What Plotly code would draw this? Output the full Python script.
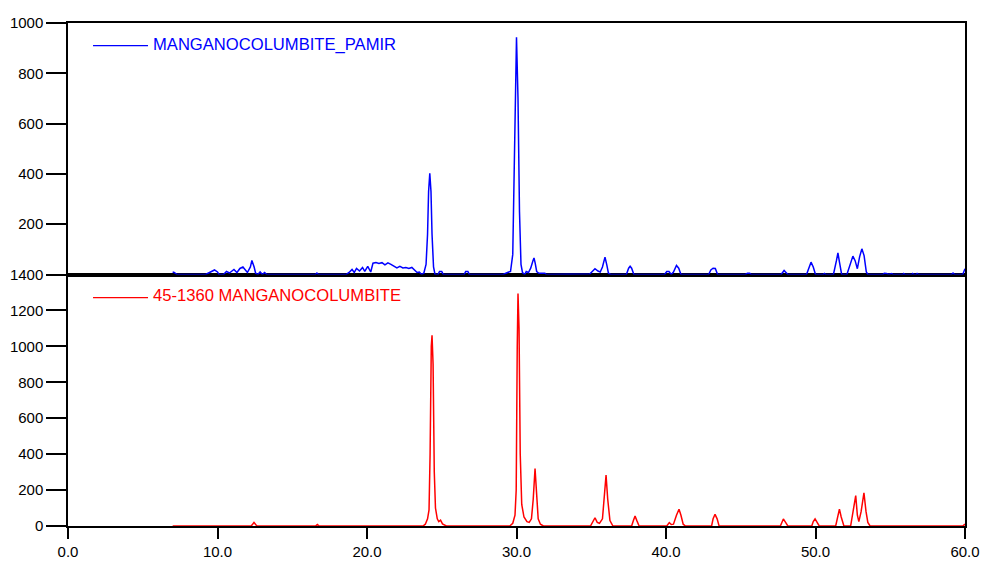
import plotly.graph_objects as go

# ---- data (2-theta, intensity) ----
pamir_x = [7.0, 7.1, 7.3, 9.2, 9.4, 9.6, 9.8, 10.0, 10.1, 10.4, 10.6, 10.8, 11.0, 11.1, 11.3, 11.5, 11.7, 11.9,
           12.0, 12.2, 12.3, 12.45, 12.55, 12.7, 12.85, 13.0, 13.15, 13.3, 16.55, 16.65, 16.75, 18.6, 18.8, 19.0,
           19.15, 19.3, 19.5, 19.7, 19.85, 20.05, 20.25, 20.4, 20.6, 20.8, 21.0, 21.2, 21.4, 21.6, 21.8, 22.0,
           22.2, 22.4, 22.6, 22.8, 23.0, 23.2, 23.35, 23.5, 23.65, 23.8, 23.95, 24.05, 24.12, 24.2, 24.28, 24.35,
           24.45, 24.55, 24.75, 24.85, 25.0, 25.1, 26.5, 26.6, 26.75, 26.85, 29.1, 29.4, 29.6, 29.75, 29.88, 30.0,
           30.1, 30.2, 30.3, 30.4, 30.55, 30.65, 30.8, 30.95, 31.1, 31.17, 31.25, 31.35, 31.5, 31.9, 32.0, 34.6,
           34.9, 35.1, 35.25, 35.45, 35.6, 35.75, 35.92, 36.05, 36.15, 36.3, 37.35, 37.5, 37.6, 37.7, 37.85, 39.9,
           40.05, 40.2, 40.35, 40.5, 40.7, 40.85, 41.0, 42.85, 43.0, 43.15, 43.3, 43.45, 45.3, 45.45, 45.6, 45.7,
           47.7, 47.9, 48.05, 48.15, 49.4, 49.55, 49.7, 49.85, 50.0, 50.5, 50.6, 50.7, 51.2, 51.4, 51.5, 51.6,
           51.75, 52.1, 52.3, 52.5, 52.65, 52.8, 52.95, 53.1, 53.25, 53.4, 53.5, 54.5, 54.6, 54.75, 54.9, 55.1,
           55.2, 55.85, 55.9, 56.0, 56.45, 56.5, 56.6, 56.75, 56.8, 56.9, 59.1, 59.2, 59.3, 59.85, 60.0]
pamir_y = [10, 8, 0, 0, 6, 12, 18, 10, 0, 0, 12, 6, 14, 20, 8, 24, 30, 18,
           8, 30, 56, 30, 5, 0, 10, 0, 8, 0, 0, 6, 0, 0, 8, 20,
           8, 24, 14, 28, 12, 32, 10, 45, 48, 44, 47, 38, 46, 40, 34, 26,
           32, 26, 28, 24, 28, 18, 8, 10, 0, 5, 40, 160, 330, 402, 330, 160,
           30, 0, 0, 12, 12, 0, 0, 12, 12, 0, 0, 8, 12, 80, 500, 943,
           700, 250, 40, 8, 0, 12, 8, 25, 55, 66, 45, 12, 5, 5, 0, 0,
           2, 14, 23, 14, 10, 30, 69, 35, 5, 0, 0, 25, 33, 25, 0, 0,
           12, 12, 0, 10, 36, 25, 0, 0, 18, 25, 24, 0, 0, 5, 5, 0,
           0, 16, 6, 0, 0, 25, 49, 30, 0, 0, 4, 0, 0, 55, 86, 50,
           0, 0, 40, 73, 55, 23, 70, 102, 75, 10, 0, 0, 5, 4, 0, 4,
           0, 0, 4, 0, 0, 4, 0, 0, 4, 0, 0, 6, 0, 0, 23]

ref_x = [7.0, 12.25, 12.35, 12.44, 12.55, 12.65, 16.55, 16.68, 16.8, 23.75, 23.9, 24.05, 24.15, 24.22, 24.3,
         24.35, 24.42, 24.5, 24.58, 24.7, 24.8, 24.92, 25.05, 25.3, 29.55, 29.75, 29.9, 29.98, 30.05, 30.1,
         30.17, 30.25, 30.35, 30.5, 30.7, 30.85, 31.0, 31.12, 31.24, 31.33, 31.45, 31.6, 31.8, 34.95, 35.1,
         35.25, 35.4, 35.55, 35.75, 35.9, 35.99, 36.1, 36.25, 36.45, 37.7, 37.82, 37.93, 38.05, 38.2, 40.05,
         40.15, 40.22, 40.35, 40.5, 40.7, 40.87, 41.0, 41.15, 41.3, 43.05, 43.15, 43.28, 43.42, 43.55, 47.65,
         47.75, 47.85, 48.0, 48.15, 49.75, 49.85, 49.97, 50.1, 50.25, 51.35, 51.48, 51.6, 51.72, 51.9, 52.35,
         52.5, 52.69, 52.8, 52.9, 53.05, 53.24, 53.38, 53.5, 53.65, 59.85, 60.0]
ref_y = [0, 0, 10, 20, 8, 0, 0, 8, 0, 0, 10, 40, 90, 400, 1000,
         1061, 900, 300, 100, 40, 25, 33, 12, 0, 0, 15, 60, 200, 1000, 1294,
         1100, 400, 120, 50, 24, 20, 40, 150, 320, 200, 40, 10, 0, 0, 25,
         46, 20, 15, 40, 200, 283, 150, 30, 0, 0, 30, 56, 30, 0, 0,
         15, 19, 8, 10, 60, 93, 60, 10, 0, 0, 40, 65, 40, 0, 0,
         20, 39, 20, 0, 0, 25, 39, 20, 0, 0, 50, 94, 50, 0, 0,
         80, 169, 60, 24, 80, 185, 80, 20, 0, 0, 10]

top_ticks = [200, 400, 600, 800, 1000]
bottom_ticks = [0, 200, 400, 600, 800, 1000, 1200, 1400]
x_ticks = [0, 10, 20, 30, 40, 50, 60]
x_labels = ["0.0", "10.0", "20.0", "30.0", "40.0", "50.0", "60.0"]

name_top = "MANGANOCOLUMBITE_PAMIR"
name_bottom = "45-1360 MANGANOCOLUMBITE"

FONT = "Liberation Sans, Arial, sans-serif"

fig = go.Figure()
fig.add_trace(go.Scatter(x=pamir_x, y=pamir_y, mode="lines", xaxis="x2", yaxis="y2",
                         line=dict(color="#0000FF", width=1.5), name=name_top))
fig.add_trace(go.Scatter(x=ref_x, y=ref_y, mode="lines", xaxis="x", yaxis="y",
                         line=dict(color="#FF0000", width=1.5), name=name_bottom))

axis_common = dict(showline=True, linecolor="black", linewidth=1.5, mirror=True,
                   showgrid=False, zeroline=False, automargin=False,
                   tickfont=dict(family=FONT, size=15, color="black"))

fig.update_layout(
    width=986, height=565,
    margin=dict(l=68, r=21, t=23, b=39, autoexpand=False),
    paper_bgcolor="white", plot_bgcolor="white",
    showlegend=False,
    font=dict(family=FONT, size=15, color="black"),
    xaxis=dict(domain=[0, 1], range=[0, 60], anchor="y", tickvals=x_ticks, ticktext=x_labels,
               ticks="outside", ticklen=11, tickcolor="black", tickwidth=1.5, **axis_common),
    yaxis=dict(domain=[0, 0.5], range=[0, 1400], anchor="x", tickvals=bottom_ticks,
               ticks="outside", ticklen=20, tickcolor="black", tickwidth=1.5, **axis_common),
    xaxis2=dict(domain=[0, 1], range=[0, 60], anchor="y2", matches="x", showticklabels=False,
                ticks="", **axis_common),
    yaxis2=dict(domain=[0.5, 1], range=[0, 1000], anchor="x2", tickvals=top_ticks,
                ticks="outside", ticklen=20, tickcolor="black", tickwidth=1.5, **axis_common),
)

# legend samples (line + label) inside each panel
fig.add_shape(type="line", xref="paper", yref="paper", x0=0.0279, x1=0.0892, y0=0.955, y1=0.955,
              line=dict(color="#0000FF", width=1.2))
fig.add_annotation(xref="paper", yref="paper", x=0.0925, y=0.958, xanchor="left", yanchor="middle",
                   text=name_top, showarrow=False, font=dict(family=FONT, size=16.6, color="#0000FF"))
fig.add_shape(type="line", xref="paper", yref="paper", x0=0.0279, x1=0.0892, y0=0.454, y1=0.454,
              line=dict(color="#FF0000", width=1.2))
fig.add_annotation(xref="paper", yref="paper", x=0.0925, y=0.4586, xanchor="left", yanchor="middle",
                   text=name_bottom, showarrow=False, font=dict(family=FONT, size=16.6, color="#FF0000"))

# remove the browser's default page margin so the figure fills the window exactly
fig.write_html("out.html",
               config={"displayModeBar": False},
               post_script="document.body.style.margin='0px';document.body.style.overflow='hidden';")
